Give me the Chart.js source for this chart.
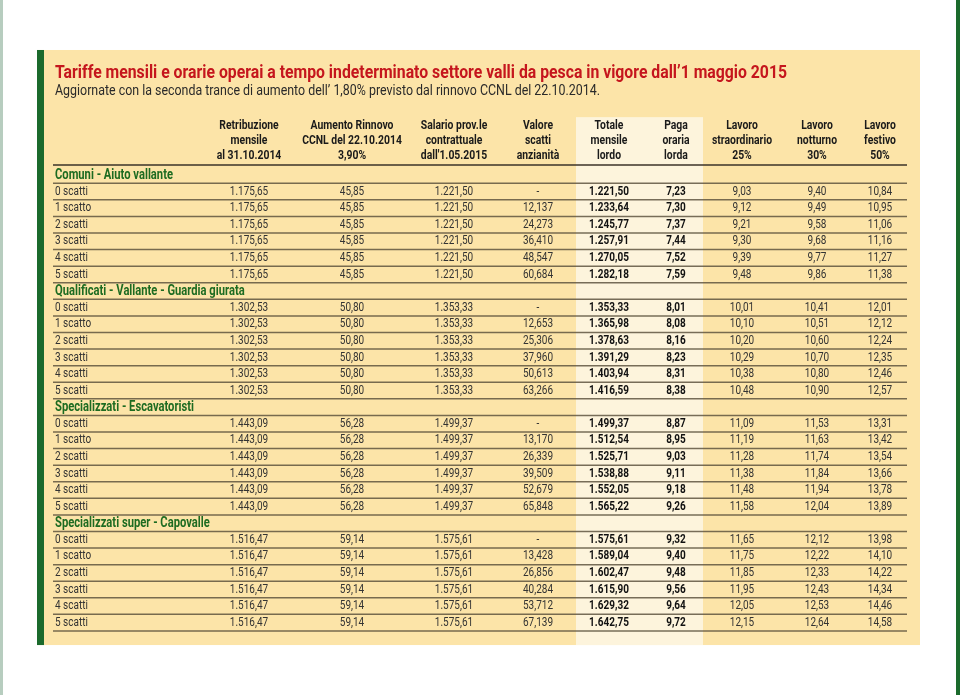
<!DOCTYPE html>
<html>
<head>
<meta charset="utf-8">
<script src="https://cdn.jsdelivr.net/npm/chart.js@4/dist/chart.umd.min.js"></script>
<style>
  body { margin: 0; background: #fff; }
  canvas { display: block; }
</style>
</head>
<body>
<canvas id="tariffe" width="960" height="695"></canvas>
<script>
// Tariffe operai valli da pesca
const title = 'Tariffe mensili e orarie operai a tempo indeterminato settore valli da pesca in vigore dall\u20191 maggio 2015';
const subtitle = 'Aggiornate con la seconda trance di aumento dell\u2019 1,80% previsto dal rinnovo CCNL del 22.10.2014.';

const groups = [
  'Comuni - Aiuto vallante',
  'Qualificati - Vallante - Guardia giurata',
  'Specializzati - Escavatoristi',
  'Specializzati super - Capovalle'
];
const steps = ['0 scatti', '1 scatto', '2 scatti', '3 scatti', '4 scatti', '5 scatti'];

const headers = [
  ['Retribuzione', 'mensile', 'al 31.10.2014'],
  ['Aumento Rinnovo', 'CCNL del 22.10.2014', '3,90%'],
  ['Salario prov.le', 'contrattuale', 'dall\'1.05.2015'],
  ['Valore', 'scatti', 'anzianit\u00e0'],
  ['Totale', 'mensile', 'lordo'],
  ['Paga', 'oraria', 'lorda'],
  ['Lavoro', 'straordinario', '25%'],
  ['Lavoro', 'notturno', '30%'],
  ['Lavoro', 'festivo', '50%']
];

// one value per group
const retribuzione = [1175.65, 1302.53, 1443.09, 1516.47];
const aumento = [45.85, 50.80, 56.28, 59.14];
const salario = [1221.50, 1353.33, 1499.37, 1575.61];

// one row per group, one value per step
const valoreScatti = [
  [0, 12.137, 24.273, 36.410, 48.547, 60.684],
  [0, 12.653, 25.306, 37.960, 50.613, 63.266],
  [0, 13.170, 26.339, 39.509, 52.679, 65.848],
  [0, 13.428, 26.856, 40.284, 53.712, 67.139]
];
const totale = [
  [1221.50, 1233.64, 1245.77, 1257.91, 1270.05, 1282.18],
  [1353.33, 1365.98, 1378.63, 1391.29, 1403.94, 1416.59],
  [1499.37, 1512.54, 1525.71, 1538.88, 1552.05, 1565.22],
  [1575.61, 1589.04, 1602.47, 1615.90, 1629.32, 1642.75]
];
const pagaOraria = [
  [7.23, 7.30, 7.37, 7.44, 7.52, 7.59],
  [8.01, 8.08, 8.16, 8.23, 8.31, 8.38],
  [8.87, 8.95, 9.03, 9.11, 9.18, 9.26],
  [9.32, 9.40, 9.48, 9.56, 9.64, 9.72]
];
const straordinario = [
  [9.03, 9.12, 9.21, 9.30, 9.39, 9.48],
  [10.01, 10.10, 10.20, 10.29, 10.38, 10.48],
  [11.09, 11.19, 11.28, 11.38, 11.48, 11.58],
  [11.65, 11.75, 11.85, 11.95, 12.05, 12.15]
];
const notturno = [
  [9.40, 9.49, 9.58, 9.68, 9.77, 9.86],
  [10.41, 10.51, 10.60, 10.70, 10.80, 10.90],
  [11.53, 11.63, 11.74, 11.84, 11.94, 12.04],
  [12.12, 12.22, 12.33, 12.43, 12.53, 12.64]
];
const festivo = [
  [10.84, 10.95, 11.06, 11.16, 11.27, 11.38],
  [12.01, 12.12, 12.24, 12.35, 12.46, 12.57],
  [13.31, 13.42, 13.54, 13.66, 13.78, 13.89],
  [13.98, 14.10, 14.22, 14.34, 14.46, 14.58]
];

// layout: column centres on the x scale, rows are indexes on the y scale
const colX = [55, 249, 352, 454, 538, 609, 676, 742, 817, 880];
const FONT = "Roboto, 'Liberation Sans', sans-serif";
const SQUEEZE = 0.8; // fake a condensed face

function fmt(v, dec) {
  if (v === 0) return '-';
  const parts = v.toFixed(dec).split('.');
  const int = parts[0].replace(/\B(?=(\d{3})+(?!\d))/g, '.');
  return int + ',' + parts[1];
}

// squeezed text, optionally fitted to a width
function drawText(ctx, str, x, y, align, sx, fitWidth) {
  ctx.save();
  ctx.textAlign = align;
  if (fitWidth) sx = fitWidth / ctx.measureText(str).width;
  ctx.translate(x, y);
  ctx.scale(sx, 1);
  ctx.fillText(str, 0, 0);
  ctx.restore();
}

function rowOf(g, s) { return g * 7 + 1 + s; }

function perGroup(arr) {
  return groups.flatMap((_, g) => steps.map(() => arr[g]));
}
function perStep(arr) {
  return groups.flatMap((_, g) => arr[g]);
}

const rowIdx = groups.flatMap((_, g) => steps.map((_, s) => rowOf(g, s)));

function column(c, values, dec, bold) {
  return {
    label: headers[c - 1][0],
    data: values.map((v, i) => ({ x: colX[c], y: rowIdx[i] })),
    texts: values.map(v => fmt(v, dec)),
    font: (bold ? 'bold ' : '') + '12.5px ' + FONT,
    color: bold ? '#111' : '#333',
    align: 'center',
    pointRadius: 0
  };
}

const datasets = [
  {
    label: 'gruppi',
    data: groups.map((_, g) => ({ x: colX[0], y: rowOf(g, -1) })),
    texts: groups,
    font: 'bold 14px ' + FONT,
    color: '#1d6b21',
    align: 'left',
    pointRadius: 0
  },
  {
    label: 'scatti',
    data: rowIdx.map(r => ({ x: colX[0], y: r })),
    texts: groups.flatMap(() => steps),
    font: '12.5px ' + FONT,
    color: '#333',
    align: 'left',
    pointRadius: 0
  },
  column(1, perGroup(retribuzione), 2, false),
  column(2, perGroup(aumento), 2, false),
  column(3, perGroup(salario), 2, false),
  column(4, perStep(valoreScatti), 3, false),
  column(5, perStep(totale), 2, true),
  column(6, perStep(pagaOraria), 2, true),
  column(7, perStep(straordinario), 2, false),
  column(8, perStep(notturno), 2, false),
  column(9, perStep(festivo), 2, false)
];

const ROW = 16.58;
const Y0 = 175;

const tablePlugin = {
  id: 'table',
  beforeDraw(chart) {
    const { ctx, scales: { x, y } } = chart;
    const px = v => x.getPixelForValue(v);
    const py = v => y.getPixelForValue(v);
    ctx.save();
    ctx.fillStyle = '#ffffff';
    ctx.fillRect(0, 0, chart.width, chart.height);
    // page edges
    ctx.fillStyle = '#b7cdbf';
    ctx.fillRect(px(0), py(y.min), 3, chart.height);
    ctx.fillStyle = '#1b6a2c';
    ctx.fillRect(px(956), py(y.min), 4, chart.height);
    // panel
    const top = py(-7.54), bottom = py(28.35);
    ctx.fillStyle = '#fce4a8';
    ctx.fillRect(px(37), top, px(920) - px(37), bottom - top);
    ctx.fillStyle = '#1b6a2c';
    ctx.fillRect(px(37), top, px(44) - px(37), bottom - top);
    // highlighted columns
    ctx.fillStyle = '#fdf4dc';
    ctx.fillRect(px(576), py(-3.49), px(703) - px(576), bottom - py(-3.49));
    ctx.restore();
  },
  afterDatasetsDraw(chart) {
    const { ctx, scales: { x, y } } = chart;
    const px = v => x.getPixelForValue(v);
    const py = v => y.getPixelForValue(v);
    ctx.save();
    ctx.textBaseline = 'middle';
    // titles
    ctx.fillStyle = '#c5161d';
    ctx.font = 'bold 18px ' + FONT;
    drawText(ctx, title, px(55), py(-6.15), 'left', 1, px(787) - px(55));
    ctx.fillStyle = '#2a2a2a';
    ctx.font = '14.5px ' + FONT;
    drawText(ctx, subtitle, px(55), py(-5.05), 'left', 1, px(600) - px(55));
    // header
    ctx.fillStyle = '#1a1a1a';
    ctx.font = 'bold 13px ' + FONT;
    const hRows = [-2.96, -2.05, -1.15];
    headers.forEach((lines, c) => {
      lines.forEach((t, k) => drawText(ctx, t, px(colX[c + 1]), py(hRows[k]), 'center', SQUEEZE));
    });
    // rules
    ctx.strokeStyle = '#3b3328';
    ctx.lineWidth = 1.6;
    ctx.beginPath();
    ctx.moveTo(px(53), py(-0.6));
    ctx.lineTo(px(907), py(-0.6));
    ctx.stroke();
    ctx.strokeStyle = 'rgba(85, 75, 55, 0.8)';
    ctx.lineWidth = 1.5;
    for (let r = 0; r < groups.length * 7; r++) {
      ctx.beginPath();
      ctx.moveTo(px(53), py(r + 0.5));
      ctx.lineTo(px(907), py(r + 0.5));
      ctx.stroke();
    }
    // cells
    chart.data.datasets.forEach((ds, i) => {
      const meta = chart.getDatasetMeta(i);
      ctx.font = ds.font;
      ctx.fillStyle = ds.color;
      meta.data.forEach((pt, j) => drawText(ctx, ds.texts[j], pt.x, pt.y, ds.align, SQUEEZE));
    });
    ctx.restore();
  }
};

new Chart(document.getElementById('tariffe'), {
  type: 'scatter',
  data: { datasets },
  options: {
    responsive: false,
    animation: false,
    events: [],
    layout: { padding: 0 },
    plugins: { legend: { display: false }, tooltip: { enabled: false } },
    scales: {
      x: { type: 'linear', min: 0, max: 960, display: false },
      y: { type: 'linear', min: -Y0 / ROW, max: (695 - Y0) / ROW, reverse: true, display: false }
    }
  },
  plugins: [tablePlugin]
});
</script>
</body>
</html>
